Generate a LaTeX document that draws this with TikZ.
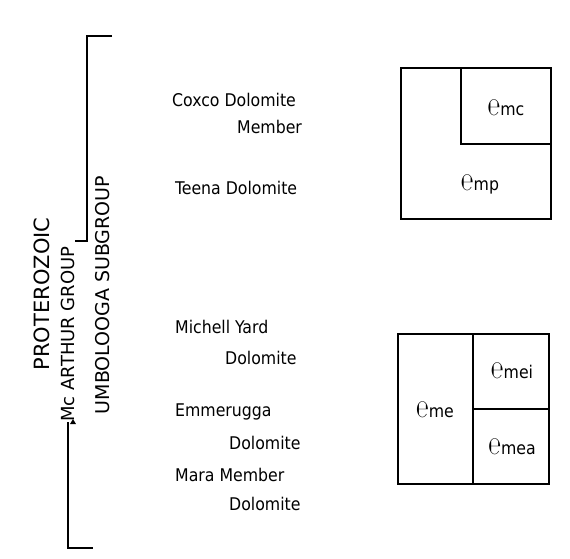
\documentclass[tikz,border=0pt]{standalone}
\usepackage{fontspec}
\setmainfont{DejaVu Sans Condensed}
\newfontfamily\symfont{DejaVu Sans Condensed}
\newfontfamily\rotfont{DejaVu Sans}
\newcommand{\psym}{{\symfont\scalebox{0.95}[1.4]{℮}}}
\begin{document}
\begin{tikzpicture}[x=1pt,y=-1pt,
  lbl/.style={font=\fontsize{17.5}{20}\selectfont, inner sep=0pt, anchor=west},
  rot/.style={inner sep=1pt, rotate=90},
  unit/.style={font=\fontsize{17.5}{20}\selectfont, inner sep=0pt},
  ln/.style={line width=1.5pt}]
\useasboundingbox (0,0) rectangle (570,559);
% left headings
\node[rot, font=\rotfont\fontsize{21}{24}\selectfont] (pro) at (42,294) {PROTEROZOIC};
\node[rot, font=\rotfont\fontsize{18}{22}\selectfont] (mca) at (68,334) {Mc ARTHUR GROUP};
\node[rot, font=\rotfont\fontsize{19}{22}\selectfont] (umb) at (103,295) {UMBOLOOGA SUBGROUP};
\coordinate (tt) at (112,36);
\coordinate (tc) at (87,36);
\coordinate (tb) at (87,241);
\coordinate (tj) at (75,241);
\coordinate (bs) at (68,422);
\coordinate (bc) at (68,548);
\coordinate (bt) at (93,548);
\draw[ln] (tt) -- (tc) -- (tb) -- (tj);
\draw[ln] (bs) -- (bc) -- (bt);
\fill (73,419) -- (76,424) -- (70,424) -- cycle;
% unit names
\node[lbl] (cox) at (172,100) {Coxco Dolomite};
\node[lbl] (mem) at (237,127) {Member};
\node[lbl] (tee) at (175,188) {Teena Dolomite};
\node[lbl] (mic) at (175,327) {Michell Yard};
\node[lbl] (mdo) at (225,358) {Dolomite};
\node[lbl] (emm) at (175,412) {Emmerugga};
\node[lbl] (edo) at (229,443) {Dolomite};
\node[lbl] (mar) at (175,475) {Mara Member};
\node[lbl] (ado) at (229,504) {Dolomite};
% upper map boxes
\draw[ln] (401,68) rectangle (551,219);
\draw[ln] (461,68) -- (461,144) -- (551,144);
\node[unit] (pmc) at (506,108) {\psym mc};
\node[unit] (pmp) at (480,184) {\psym mp};
% lower map boxes
\draw[ln] (398,334) rectangle (549,484);
\draw[ln] (473,334) -- (473,484);
\draw[ln] (473,409) -- (549,409);
\node[unit] (pme) at (435,410) {\psym me};
\node[unit] (pmei) at (512,371) {\psym mei};
\node[unit] (pmea) at (512,447) {\psym mea};
\end{tikzpicture}
\end{document}
